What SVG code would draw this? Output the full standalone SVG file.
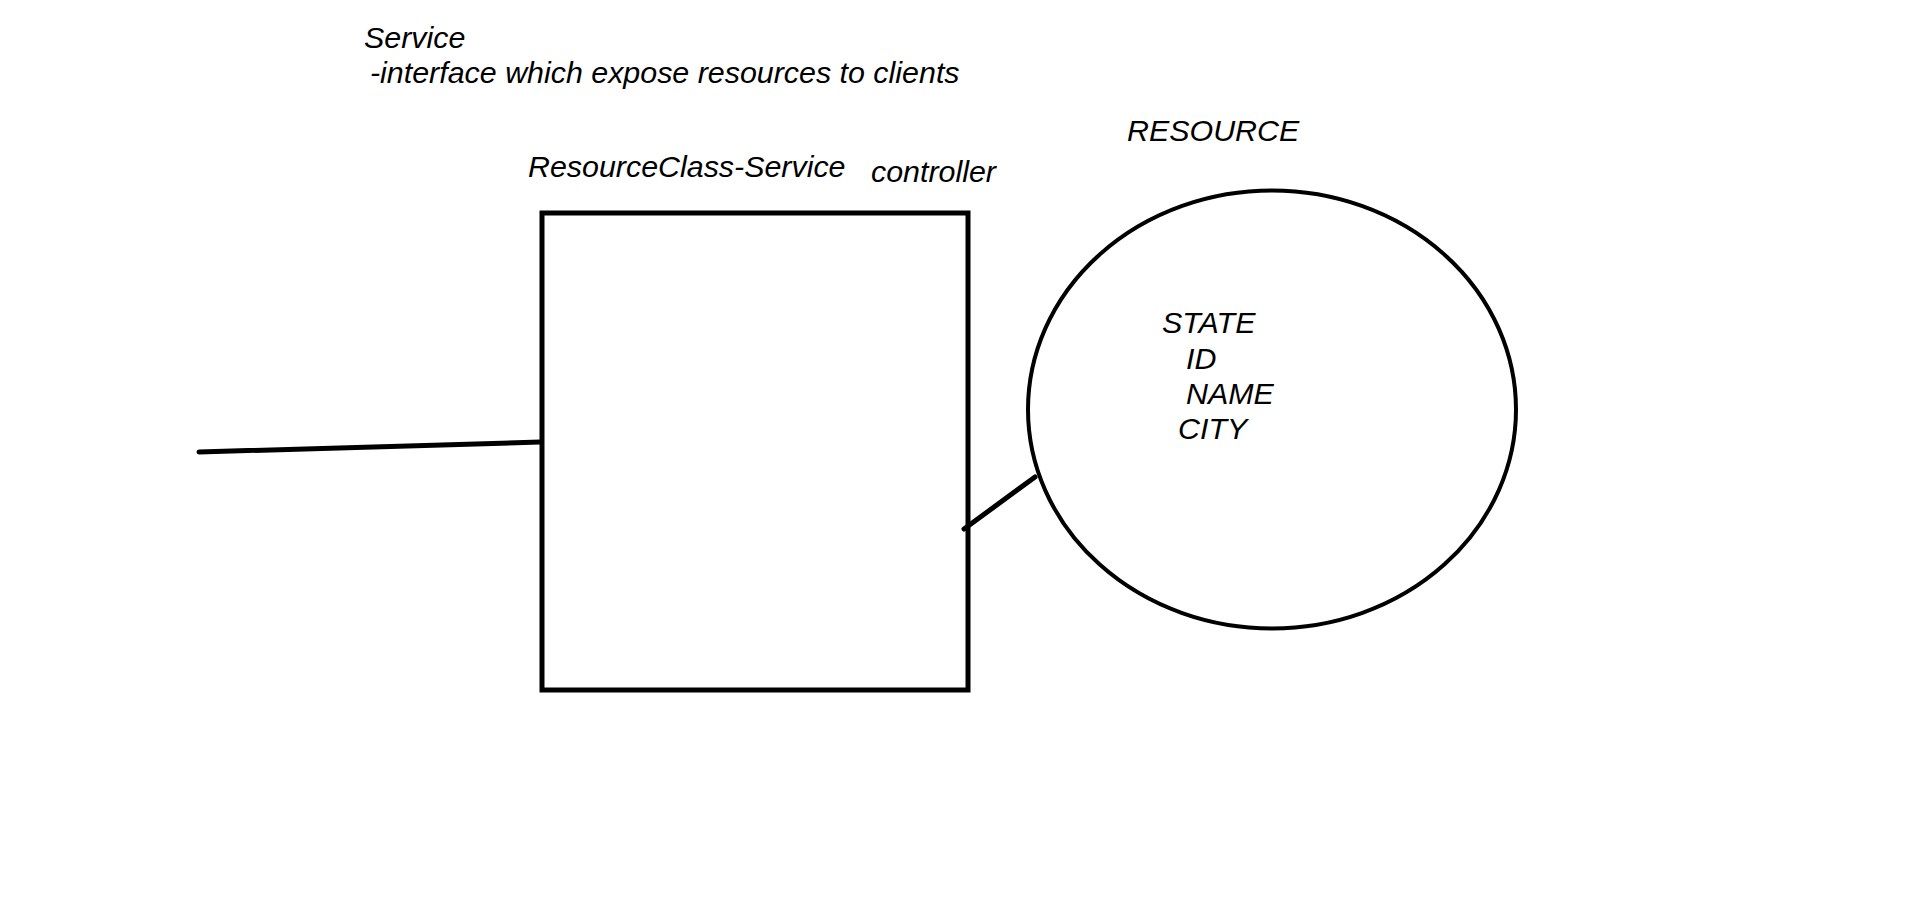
<svg xmlns="http://www.w3.org/2000/svg" width="1914" height="903" viewBox="0 0 1914 903">
<style>
text{font-family:"Liberation Sans",Arial,sans-serif;font-style:italic;font-size:30.4px;fill:#000}
.shape{fill:none;stroke:#000}
.conn{stroke:#000;stroke-width:5;stroke-linecap:round;fill:none}
</style>
<rect width="1914" height="903" fill="#fff"/>
<g id="labels">
<text x="364" y="48">Service</text>
<text x="370" y="83">-interface which expose resources to clients</text>
</g>
<g id="service-node">
<rect class="shape" stroke-width="5" x="542" y="213" width="426" height="477"/>
<text x="528" y="177">ResourceClass-Service</text>
<text x="871" y="182">controller</text>
</g>
<g id="resource-node">
<ellipse class="shape" stroke-width="4" cx="1272" cy="409.5" rx="244" ry="219"/>
<text x="1127" y="141">RESOURCE</text>
<text x="1162" y="333">STATE</text>
<text x="1186" y="369">ID</text>
<text x="1186" y="404">NAME</text>
<text x="1178" y="439">CITY</text>
</g>
<g id="connectors">
<line class="conn" x1="199" y1="452" x2="540" y2="442"/>
<line class="conn" x1="964" y1="529" x2="1035" y2="477"/>
</g>
</svg>
